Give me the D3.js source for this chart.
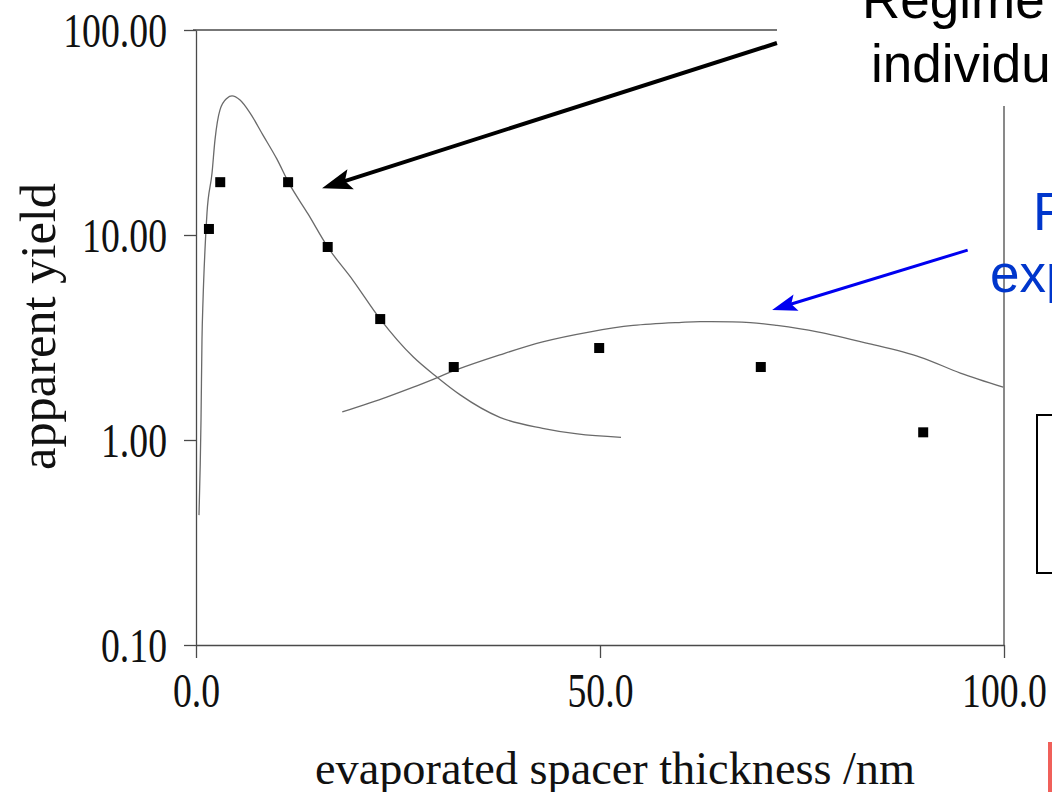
<!DOCTYPE html>
<html>
<head>
<meta charset="utf-8">
<script src="https://cdn.jsdelivr.net/npm/d3@7/dist/d3.min.js"></script>
<style>
  html, body { margin: 0; padding: 0; background: #fff; }
  svg { display: block; }
</style>
</head>
<body>
<svg id="chart" width="1052" height="792"></svg>
<script>
// Measured points: spacer thickness (nm) and apparent yield
const thickness = [1.6, 3.0, 11.4, 16.3, 22.8, 31.9, 49.9, 69.9, 90.0];
const yieldVals = [10.7, 18.1, 18.1, 8.74, 3.89, 2.27, 2.81, 2.27, 1.09];

// Model curve for the short-range (peaked) regime
const peakX = [0.37, 0.62, 0.74, 0.87, 1.11, 1.36, 1.98, 2.35, 2.97, 3.84, 4.46, 5.45, 6.68, 8.29, 10.0, 11.5, 13.9, 16.3, 19.4, 22.8, 26.9, 29.8, 32.7, 37.6, 42.9, 47.2, 52.6];
const peakY = [0.43, 1.25, 3.07, 4.82, 8.44, 12.8, 20.0, 29.1, 40.8, 46.5, 47.7, 45.5, 39.4, 30.7, 23.5, 17.9, 12.6, 8.74, 6.03, 3.89, 2.54, 2.03, 1.66, 1.29, 1.14, 1.07, 1.03];

// Model curve for the long-range regime
const broadX = [18.1, 23.6, 26.9, 29.8, 32.1, 37.6, 42.9, 48.8, 54.1, 60.1, 62.4, 68.6, 71.9, 76.9, 83.0, 89.6, 94.6, 99.9];
const broadY = [1.37, 1.62, 1.81, 2.01, 2.19, 2.60, 3.01, 3.37, 3.62, 3.75, 3.78, 3.74, 3.62, 3.37, 2.97, 2.54, 2.12, 1.81];

// Axis ticks
const xTicks = [0, 50, 100];
const xTickLabels = ["0.0", "50.0", "100.0"];
const yTicks = [0.1, 1, 10, 100];
const yTickLabels = ["0.10", "1.00", "10.00", "100.00"];

const svg = d3.select("#chart");
const x = d3.scaleLinear().domain([0, 100]).range([196, 1004]);
const y = d3.scaleLog().domain([0.1, 100]).range([645, 30]);

const frameColor = "#4a4a4a";
const curveColor = "#6a6a6a";
const serif = "'Liberation Serif', 'DejaVu Serif', serif";

// squeeze serif text horizontally to mimic a condensed typeface
function condense(sel, factor) {
  sel.each(function () {
    const w = this.getComputedTextLength();
    d3.select(this).attr("textLength", w * factor).attr("lengthAdjust", "spacingAndGlyphs");
  });
}

// Frame: top and right sides
svg.append("line").attr("x1", x(0) - 3).attr("x2", x(100)).attr("y1", y(100)).attr("y2", y(100))
  .attr("stroke", frameColor).attr("stroke-width", 1.3);
svg.append("line").attr("x1", x(100)).attr("x2", x(100)).attr("y1", y(100)).attr("y2", y(0.1))
  .attr("stroke", frameColor).attr("stroke-width", 1.3);

// Left axis
const yAxis = svg.append("g")
  .attr("transform", `translate(${x(0)},0)`)
  .call(d3.axisLeft(y).tickValues(yTicks)
    .tickFormat((d, i) => yTickLabels[i])
    .tickSize(12).tickSizeOuter(0).tickPadding(17));
yAxis.select(".domain").attr("stroke", frameColor).attr("stroke-width", 1.3);
yAxis.selectAll(".tick line").attr("stroke", frameColor).attr("stroke-width", 1.3);
yAxis.selectAll(".tick text")
  .attr("font-family", serif).attr("font-size", 49).attr("fill", "#111")
  .attr("dy", "0.34em")
  .call(condense, 0.77);

// Bottom axis
const xAxis = svg.append("g")
  .attr("transform", `translate(0,${y(0.1)})`)
  .call(d3.axisBottom(x).tickValues(xTicks)
    .tickFormat((d, i) => xTickLabels[i])
    .tickSize(13).tickSizeOuter(0).tickPadding(14));
xAxis.select(".domain").attr("stroke", frameColor).attr("stroke-width", 1.3);
xAxis.selectAll(".tick line").attr("stroke", frameColor).attr("stroke-width", 1.3);
xAxis.selectAll(".tick text")
  .attr("font-family", serif).attr("font-size", 49).attr("fill", "#111")
  .call(condense, 0.77);

// Axis titles
svg.append("text")
  .attr("transform", `translate(55,${(y(100) + y(0.1)) / 2 - 11}) rotate(-90)`)
  .attr("text-anchor", "middle")
  .attr("font-family", serif).attr("font-size", 50).attr("fill", "#111")
  .attr("textLength", 287).attr("lengthAdjust", "spacingAndGlyphs")
  .text("apparent yield");

svg.append("text")
  .attr("x", 615).attr("y", 784)
  .attr("text-anchor", "middle")
  .attr("font-family", serif).attr("font-size", 46).attr("fill", "#111")
  .attr("textLength", 600).attr("lengthAdjust", "spacingAndGlyphs")
  .text("evaporated spacer thickness /nm");

// Model curves
const peakLine = d3.line().x(d => x(d[0])).y(d => y(d[1])).curve(d3.curveMonotoneX);
const broadLine = d3.line().x(d => x(d[0])).y(d => y(d[1])).curve(d3.curveCatmullRom.alpha(0.5));
svg.append("path")
  .datum(peakX.map((v, i) => [v, peakY[i]]))
  .attr("d", peakLine).attr("fill", "none")
  .attr("stroke", curveColor).attr("stroke-width", 1.3);
svg.append("path")
  .datum(broadX.map((v, i) => [v, broadY[i]]))
  .attr("d", broadLine).attr("fill", "none")
  .attr("stroke", curveColor).attr("stroke-width", 1.3);

// Data points
const sq = 10;
svg.append("g").selectAll("rect")
  .data(thickness.map((v, i) => [v, yieldVals[i]]))
  .join("rect")
  .attr("x", d => x(d[0]) - sq / 2).attr("y", d => y(d[1]) - sq / 2)
  .attr("width", sq).attr("height", sq)
  .attr("fill", "#000");

// Annotation arrows (endpoints in data units)
function arrow(from, to, color, width, headLen, headW) {
  const x1 = x(from[0]), y1 = y(from[1]), x2 = x(to[0]), y2 = y(to[1]);
  const ang = Math.atan2(y2 - y1, x2 - x1);
  const bx = x2 - headLen * Math.cos(ang), by = y2 - headLen * Math.sin(ang);
  svg.append("line")
    .attr("x1", x1).attr("y1", y1)
    .attr("x2", x2 - (headLen * 0.6) * Math.cos(ang)).attr("y2", y2 - (headLen * 0.6) * Math.sin(ang))
    .attr("stroke", color).attr("stroke-width", width);
  const px = -Math.sin(ang), py = Math.cos(ang);
  const notch = 0.8;
  const pts = [
    [x2, y2],
    [bx + px * headW / 2, by + py * headW / 2],
    [x2 - headLen * notch * Math.cos(ang), y2 - headLen * notch * Math.sin(ang)],
    [bx - px * headW / 2, by - py * headW / 2]
  ];
  svg.append("polygon").attr("points", pts.map(p => p.join(",")).join(" ")).attr("fill", color);
}

// White panel behind the upper callout text
svg.append("rect").attr("x", 777).attr("y", 0).attr("width", 275).attr("height", 106).attr("fill", "#fff");

arrow([71.9, 86.4], [15.6, 16.9], "#000", 4, 30, 21);
arrow([95.5, 8.44], [71.3, 4.31], "#0000f0", 3, 25, 17);

const sans = "'Liberation Sans', Arial, sans-serif";
svg.append("text").attr("x", 862).attr("y", 18)
  .attr("font-family", sans).attr("font-size", 53).attr("fill", "#000").text("Regime");
svg.append("text").attr("x", 871).attr("y", 82)
  .attr("font-family", sans).attr("font-size", 53).attr("fill", "#000").text("individual");

svg.append("text").attr("x", 1033).attr("y", 230)
  .attr("font-family", sans).attr("font-size", 53).attr("fill", "#0036cc").text("Regime");
svg.append("text").attr("x", 990).attr("y", 292)
  .attr("font-family", sans).attr("font-size", 53).attr("fill", "#0036cc").text("exponential");

// Legend box edge on the right
svg.append("rect").attr("x", 1037).attr("y", 415).attr("width", 40).attr("height", 158)
  .attr("fill", "none").attr("stroke", "#000").attr("stroke-width", 2);

// Red marker strip at the lower right
svg.append("rect").attr("x", 1048).attr("y", 742).attr("width", 6).attr("height", 52).attr("fill", "#f0605a");
</script>
</body>
</html>
